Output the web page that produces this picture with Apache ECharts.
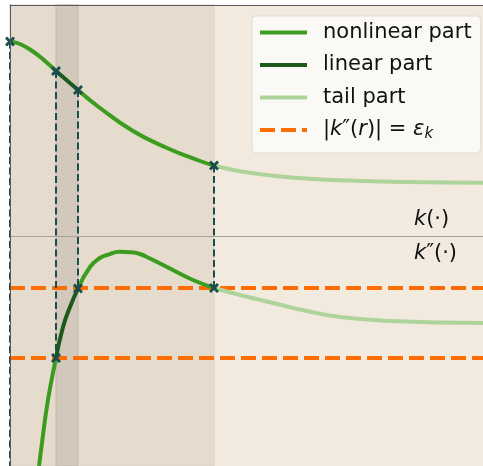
<!DOCTYPE html>
<html>
<head>
<meta charset="utf-8">
<script src="https://cdn.jsdelivr.net/npm/echarts@6/dist/echarts.min.js"></script>
<style>
  html, body { margin: 0; padding: 0; background: #fff; }
  #chart { width: 483px; height: 466px; }
</style>
</head>
<body>
<div id="chart"></div>
<script>
// k(r): kernel, split into its parts
const kNonlinearA = [[0, 1.945], [0.10, 1.92], [0.23, 1.845], [0.35, 1.75], [0.46, 1.65]]
const kLinear = [[0.46, 1.65], [0.57, 1.555], [0.68, 1.46]]
const kNonlinearB = [[0.68, 1.46], [0.90, 1.28], [1.23, 1.05], [1.57, 0.88], [1.90, 0.75], [2.04, 0.705]]
const kTail = [[2.04, 0.705], [2.30, 0.648], [2.63, 0.603], [2.97, 0.575], [3.30, 0.557], [3.97, 0.54], [4.73, 0.533]]

// k''(r)
const d2NonlinearA = [[0.29, -2.30], [0.33, -1.99], [0.37, -1.70], [0.41, -1.47], [0.46, -1.22]]
const d2Linear = [[0.46, -1.22], [0.53, -0.91], [0.60, -0.71], [0.68, -0.525]]
const d2NonlinearB = [[0.68, -0.525], [0.80, -0.31], [0.90, -0.22], [0.97, -0.19], [1.10, -0.158], [1.20, -0.162], [1.30, -0.18], [1.40, -0.225], [1.57, -0.31], [1.83, -0.44], [2.04, -0.52]]
const d2Tail = [[2.04, -0.52], [2.30, -0.59], [2.63, -0.67], [2.97, -0.75], [3.30, -0.81], [3.80, -0.85], [4.73, -0.87]]

// |k''(r)| = eps levels
const epsLevels = [-0.52, -1.22]
const rRange = [0, 4.73]

// vertical drops: [r, top, bottom]
const dropLines = [[0, 1.945, -2.30], [0.46, 1.65, -1.22], [0.68, 1.46, -0.525], [2.04, 0.705, -0.52]]
const crossMarks = [[0, 1.945], [0.46, 1.65], [0.68, 1.46], [2.04, 0.705], [0.46, -1.22], [0.68, -0.525], [2.04, -0.52]]

// shaded r-ranges
const coreRange = [0, 2.04]
const linearRange = [0.46, 0.68]

const EPS = '|k″(r)| = εk'
const FONT = 'DejaVu Sans'
const C_NONLIN = '#3c9c1f'
const C_LIN = '#1c5a1c'
const C_TAIL = '#aed39b'
const C_EPS = '#ff6d00'
const C_DROP = '#1a4d4d'

const chart = echarts.init(document.getElementById('chart'))

const curve = (name, data, color) => ({
  name, type: 'line', data, symbol: 'none', smooth: 0.5, z: 4,
  lineStyle: { color, width: 4 }, itemStyle: { color }
})

const txt = { fontFamily: FONT, fontSize: 21, color: '#111' }
const rich = {
  sp: { width: 11 },
  n: txt,
  i: { ...txt, fontStyle: 'italic' },
  s: { ...txt, fontSize: 15, fontStyle: 'italic', padding: [9, 0, 0, 0] }
}

const series = [
  {
    name: 'bg', type: 'line', data: [], z: 1, silent: true,
    markArea: {
      silent: true,
      data: [
        [{ xAxis: coreRange[0], itemStyle: { color: '#e6dcce', borderColor: '#ddd2c4', borderWidth: 1 } }, { xAxis: coreRange[1] }],
        [{ xAxis: linearRange[0], itemStyle: { color: '#d2c8bb', borderColor: '#c2b6a7', borderWidth: 1 } }, { xAxis: linearRange[1] }]
      ]
    },
    markLine: {
      silent: true, symbol: 'none', label: { show: false },
      lineStyle: { color: '#a8a29a', width: 1, type: 'solid' },
      data: [{ yAxis: 0 }]
    }
  },
  ...epsLevels.map(v => ({
    name: EPS, type: 'line', symbol: 'none', z: 3,
    data: [[rRange[0], v], [rRange[1], v]],
    lineStyle: { color: C_EPS, width: 4, type: [15, 6] }, itemStyle: { color: C_EPS }
  })),
  curve('tail part', kTail, C_TAIL),
  curve('tail part', d2Tail, C_TAIL),
  curve('nonlinear part', kNonlinearA, C_NONLIN),
  curve('nonlinear part', kNonlinearB, C_NONLIN),
  curve('nonlinear part', d2NonlinearA, C_NONLIN),
  curve('nonlinear part', d2NonlinearB, C_NONLIN),
  curve('linear part', kLinear, C_LIN),
  curve('linear part', d2Linear, C_LIN),
  ...dropLines.map(d => ({
    name: 'drop', type: 'line', symbol: 'none', z: 5, silent: true,
    data: [[d[0], d[1]], [d[0], d[2]]],
    lineStyle: { color: C_DROP, width: 2, type: [7, 3.5] }
  })),
  {
    name: 'marks', type: 'scatter', z: 6, silent: true,
    data: crossMarks,
    symbol: 'path://M2,0 L5,3 L8,0 L10,2 L7,5 L10,8 L8,10 L5,7 L2,10 L0,8 L3,5 L0,2 Z',
    symbolSize: 10,
    itemStyle: { color: C_DROP, opacity: 1 }
  },
  {
    name: 'labels', type: 'scatter', z: 6, silent: true, symbolSize: 0,
    itemStyle: { opacity: 1 },
    data: [
      { value: [4.04, 0.165], label: { formatter: '{i|k}{n|(·)}' } },
      { value: [4.04, -0.18], label: { formatter: '{i|k}{n|″(·)}' } }
    ],
    label: { show: true, position: 'right', distance: 0, color: '#111', rich }
  }
]

const axisCommon = {
  type: 'value', z: 10,
  axisLine: { show: true, onZero: false, lineStyle: { color: '#5a5a5a', width: 1 } },
  axisTick: { show: false }, axisLabel: { show: false }, splitLine: { show: false }
}

chart.setOption({
  animation: false,
  backgroundColor: '#ffffff',
  grid: { left: 10, right: 0, top: 5, bottom: 0, show: true, backgroundColor: '#f2eadf', borderWidth: 0 },
  xAxis: { ...axisCommon, min: rRange[0], max: rRange[1], position: 'top' },
  yAxis: { ...axisCommon, min: -2.30, max: 2.31 },
  legend: {
    data: ['nonlinear part', 'linear part', 'tail part', EPS],
    orient: 'vertical', left: 252, top: 16,
    selectedMode: false,
    itemWidth: 47, itemHeight: 14, itemGap: 11.5,
    padding: [6, 9, 11, 6],
    itemStyle: { opacity: 0 },
    lineStyle: { width: 4 },
    backgroundColor: 'rgba(252,251,249,0.85)', borderColor: '#e2ddd6', borderWidth: 1, borderRadius: 4,
    textStyle: { ...txt, rich },
    formatter: name => name === EPS
      ? '{sp|}{n||}{i|k}{n|″(}{i|r}{n|)| = }{i|ε}{s|k}'
      : '{sp|}{n|' + name + '}'
  },
  series
})
</script>
</body>
</html>
